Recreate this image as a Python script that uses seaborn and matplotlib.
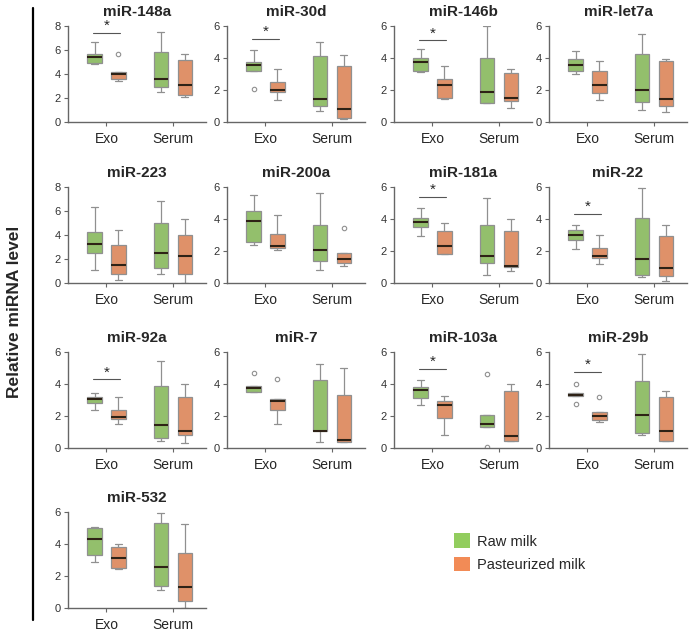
import pandas as pd
import seaborn as sns
from matplotlib import pyplot as plt
from matplotlib.patches import Patch
from matplotlib.lines import Line2D

sns.set_style("ticks")
plt.rcParams["font.family"] = ["Liberation Sans", "DejaVu Sans"]

MIRNAS = ["miR-148a", "miR-30d", "miR-146b", "miR-let7a",
          "miR-223", "miR-200a", "miR-181a", "miR-22",
          "miR-92a", "miR-7", "miR-103a", "miR-29b",
          "miR-532"]
YMAX = [8, 6, 6, 6, 8, 6, 6, 6, 6, 6, 6, 6, 6]
SIG = [7.45, 5.2, 5.1, None, None, None, 5.37, 4.33, 4.29, None, 4.96, 4.75, None]

raw_exo = [
    [4.8, 4.9, 4.95, 5.2, 5.4, 5.5, 5.65, 6.0, 6.65],
    [2.05, 3.2, 3.2, 3.4, 3.57, 3.7, 3.78, 4.1, 4.5],
    [3.15, 3.17, 3.19, 3.5, 3.77, 3.9, 4.02, 4.3, 4.58],
    [2.99, 3.1, 3.18, 3.4, 3.59, 3.75, 3.91, 4.2, 4.43],
    [1.12, 1.8, 2.53, 2.9, 3.23, 3.7, 4.21, 5.3, 6.32],
    [2.38, 2.45, 2.55, 3.2, 3.89, 4.2, 4.51, 5.0, 5.49],
    [2.93, 3.2, 3.49, 3.7, 3.83, 3.95, 4.04, 4.4, 4.71],
    [2.15, 2.4, 2.66, 2.85, 3.03, 3.2, 3.31, 3.45, 3.62],
    [2.38, 2.6, 2.8, 2.95, 3.08, 3.15, 3.21, 3.35, 3.46],
    [3.52, 3.52, 3.52, 3.62, 3.73, 3.8, 3.87, 3.87, 4.66],
    [2.71, 2.9, 3.13, 3.4, 3.6, 3.7, 3.81, 4.0, 4.27],
    [2.77, 3.23, 3.23, 3.28, 3.33, 3.4, 3.44, 3.44, 4.02],
    [2.9, 3.1, 3.31, 3.8, 4.29, 4.7, 5.01, 5.05, 5.07],
]
past_exo = [
    [3.4, 3.5, 3.6, 3.8, 4.0, 4.1, 4.2, 4.2, 5.65],
    [1.4, 1.6, 1.85, 1.95, 2.01, 2.2, 2.47, 2.9, 3.32],
    [1.42, 1.47, 1.52, 1.9, 2.29, 2.5, 2.67, 3.1, 3.5],
    [1.39, 1.6, 1.84, 2.1, 2.32, 2.8, 3.18, 3.5, 3.81],
    [0.22, 0.5, 0.79, 1.2, 1.54, 2.3, 3.15, 3.8, 4.41],
    [2.07, 2.15, 2.21, 2.27, 2.32, 2.7, 3.04, 3.6, 4.24],
    [1.82, 1.82, 1.82, 2.1, 2.3, 2.8, 3.24, 3.5, 3.77],
    [1.19, 1.4, 1.57, 1.62, 1.67, 1.9, 2.2, 2.6, 2.99],
    [1.51, 1.7, 1.82, 1.88, 1.93, 2.1, 2.38, 2.8, 3.17],
    [1.51, 1.9, 2.38, 2.7, 2.94, 3.0, 3.04, 3.04, 4.29],
    [0.79, 1.3, 1.88, 2.3, 2.67, 2.8, 2.94, 3.1, 3.25],
    [1.63, 1.7, 1.77, 1.9, 2.02, 2.1, 2.23, 2.23, 3.17],
    [2.44, 2.46, 2.48, 2.8, 3.11, 3.5, 3.83, 3.9, 4.0],
]
raw_serum = [
    [2.5, 2.7, 2.9, 3.2, 3.6, 4.8, 5.8, 6.6, 7.5],
    [0.7, 0.85, 1.02, 1.2, 1.45, 2.8, 4.13, 4.6, 5.02],
    [1.17, 1.19, 1.21, 1.5, 1.9, 3.0, 4.02, 5.0, 6.0],
    [0.78, 1.0, 1.23, 1.6, 2.0, 3.1, 4.22, 4.9, 5.49],
    [0.79, 1.0, 1.21, 1.9, 2.5, 3.7, 4.97, 5.9, 6.8],
    [0.79, 1.1, 1.35, 1.7, 2.05, 2.8, 3.62, 4.6, 5.63],
    [0.48, 0.9, 1.28, 1.5, 1.67, 2.6, 3.6, 4.4, 5.29],
    [0.36, 0.45, 0.52, 1.0, 1.51, 2.8, 4.08, 5.0, 5.96],
    [0.41, 0.5, 0.62, 1.0, 1.45, 2.6, 3.87, 4.7, 5.45],
    [0.35, 0.7, 1.08, 1.08, 1.08, 2.6, 4.24, 4.8, 5.28],
    [0.05, 1.31, 1.31, 1.4, 1.48, 1.8, 2.08, 2.08, 4.65],
    [0.79, 0.85, 0.94, 1.5, 2.04, 3.1, 4.21, 5.0, 5.88],
    [1.14, 1.25, 1.39, 2.0, 2.55, 3.9, 5.32, 5.6, 5.94],
]
past_serum = [
    [2.05, 2.15, 2.25, 2.6, 3.05, 4.2, 5.2, 5.5, 5.7],
    [0.2, 0.22, 0.25, 0.5, 0.83, 2.1, 3.53, 3.9, 4.19],
    [0.85, 1.1, 1.31, 1.4, 1.48, 2.2, 3.04, 3.2, 3.33],
    [0.61, 0.8, 0.98, 1.2, 1.45, 2.6, 3.81, 3.9, 3.95],
    [0.0, 0.4, 0.79, 1.5, 2.25, 3.1, 4.02, 4.7, 5.34],
    [1.04, 1.15, 1.24, 1.4, 1.51, 1.7, 1.9, 1.9, 3.42],
    [0.77, 0.9, 0.98, 1.0, 1.05, 2.1, 3.24, 3.6, 4.02],
    [0.15, 0.3, 0.42, 0.7, 0.94, 1.9, 2.93, 3.3, 3.62],
    [0.31, 0.6, 0.83, 0.95, 1.04, 2.1, 3.17, 3.6, 4.0],
    [0.35, 0.35, 0.35, 0.45, 0.52, 1.9, 3.31, 4.1, 4.97],
    [0.42, 0.42, 0.42, 0.6, 0.73, 2.1, 3.54, 3.8, 4.02],
    [0.42, 0.42, 0.42, 0.7, 1.04, 2.1, 3.17, 3.4, 3.58],
    [0.0, 0.2, 0.46, 0.9, 1.3, 2.4, 3.46, 4.3, 5.22],
]

GROUPS = ["Raw milk", "Pasteurized milk"]
COLORS = {"Raw milk": "#92cd5e", "Pasteurized milk": "#f28b56"}

rows = []
for i, name in enumerate(MIRNAS):
    for frac, milk, vals in [("Exo", "Raw milk", raw_exo[i]),
                             ("Exo", "Pasteurized milk", past_exo[i]),
                             ("Serum", "Raw milk", raw_serum[i]),
                             ("Serum", "Pasteurized milk", past_serum[i])]:
        for v in vals:
            rows.append({"mirna": name, "fraction": frac, "milk": milk, "value": v})
d = pd.DataFrame(rows)

W, H = 700, 632
fig = plt.figure(figsize=(7, 6.32), dpi=100)

col_left = [68, 227, 394, 549]
row_zero = [122, 283, 448, 608]
ax_w, ax_h = 138, 96

for i, name in enumerate(MIRNAS):
    r, c = divmod(i, 4)
    ax = fig.add_axes([col_left[c] / W, (H - row_zero[r]) / H, ax_w / W, ax_h / H])
    sub = d[d["mirna"] == name]
    sns.boxplot(data=sub, x="fraction", y="value", hue="milk",
                order=["Exo", "Serum"], hue_order=GROUPS, palette=COLORS,
                width=0.72, gap=0.4, linewidth=0.9, linecolor="#909090",
                fliersize=3.2, legend=False, ax=ax,
                flierprops=dict(marker="o", markerfacecolor="none",
                                markeredgecolor="#909090", markeredgewidth=0.8),
                medianprops=dict(color="#2e2216", linewidth=1.5))
    ax.set_xlim(-0.58, 1.5)
    ax.set_ylim(0, YMAX[i])
    ax.set_yticks(range(0, YMAX[i] + 1, 2))
    ax.set_xlabel("")
    ax.set_ylabel("")
    ax.set_title(name, fontsize=11, fontweight="bold", pad=7)
    sns.despine(ax=ax)
    for s in ["left", "bottom"]:
        ax.spines[s].set_color("#666666")
        ax.spines[s].set_linewidth(1.0)
    ax.tick_params(axis="y", labelsize=8, length=3, width=0.8,
                   color="#666666", labelcolor="#333333", pad=2)
    ax.tick_params(axis="x", labelsize=10, length=3, width=0.8,
                   color="#666666", pad=4)
    if SIG[i] is not None:
        ax.plot([-0.2, 0.2], [SIG[i], SIG[i]], color="#555555", lw=0.8)
        ax.text(0, SIG[i], "*", ha="center", va="bottom", fontsize=11,
                clip_on=False)

fig.add_artist(Line2D([33 / W, 33 / W], [1 - 8 / H, 1 - 620 / H],
                      color="black", lw=1.6))
fig.text(15 / W, 1 - 312 / H, "Relative miRNA level", rotation=90, ha="center",
         va="center", fontsize=12.5, fontweight="bold")

handles = [Patch(facecolor=COLORS[g], edgecolor="none") for g in GROUPS]
fig.legend(handles, GROUPS, loc="upper left", bbox_to_anchor=(441 / W, 1 - 520 / H),
           frameon=False, fontsize=10.5, handlelength=1.1, handleheight=1.2,
           labelspacing=0.55, handletextpad=0.45)

plt.savefig("out.png", dpi=100)
plt.close()
